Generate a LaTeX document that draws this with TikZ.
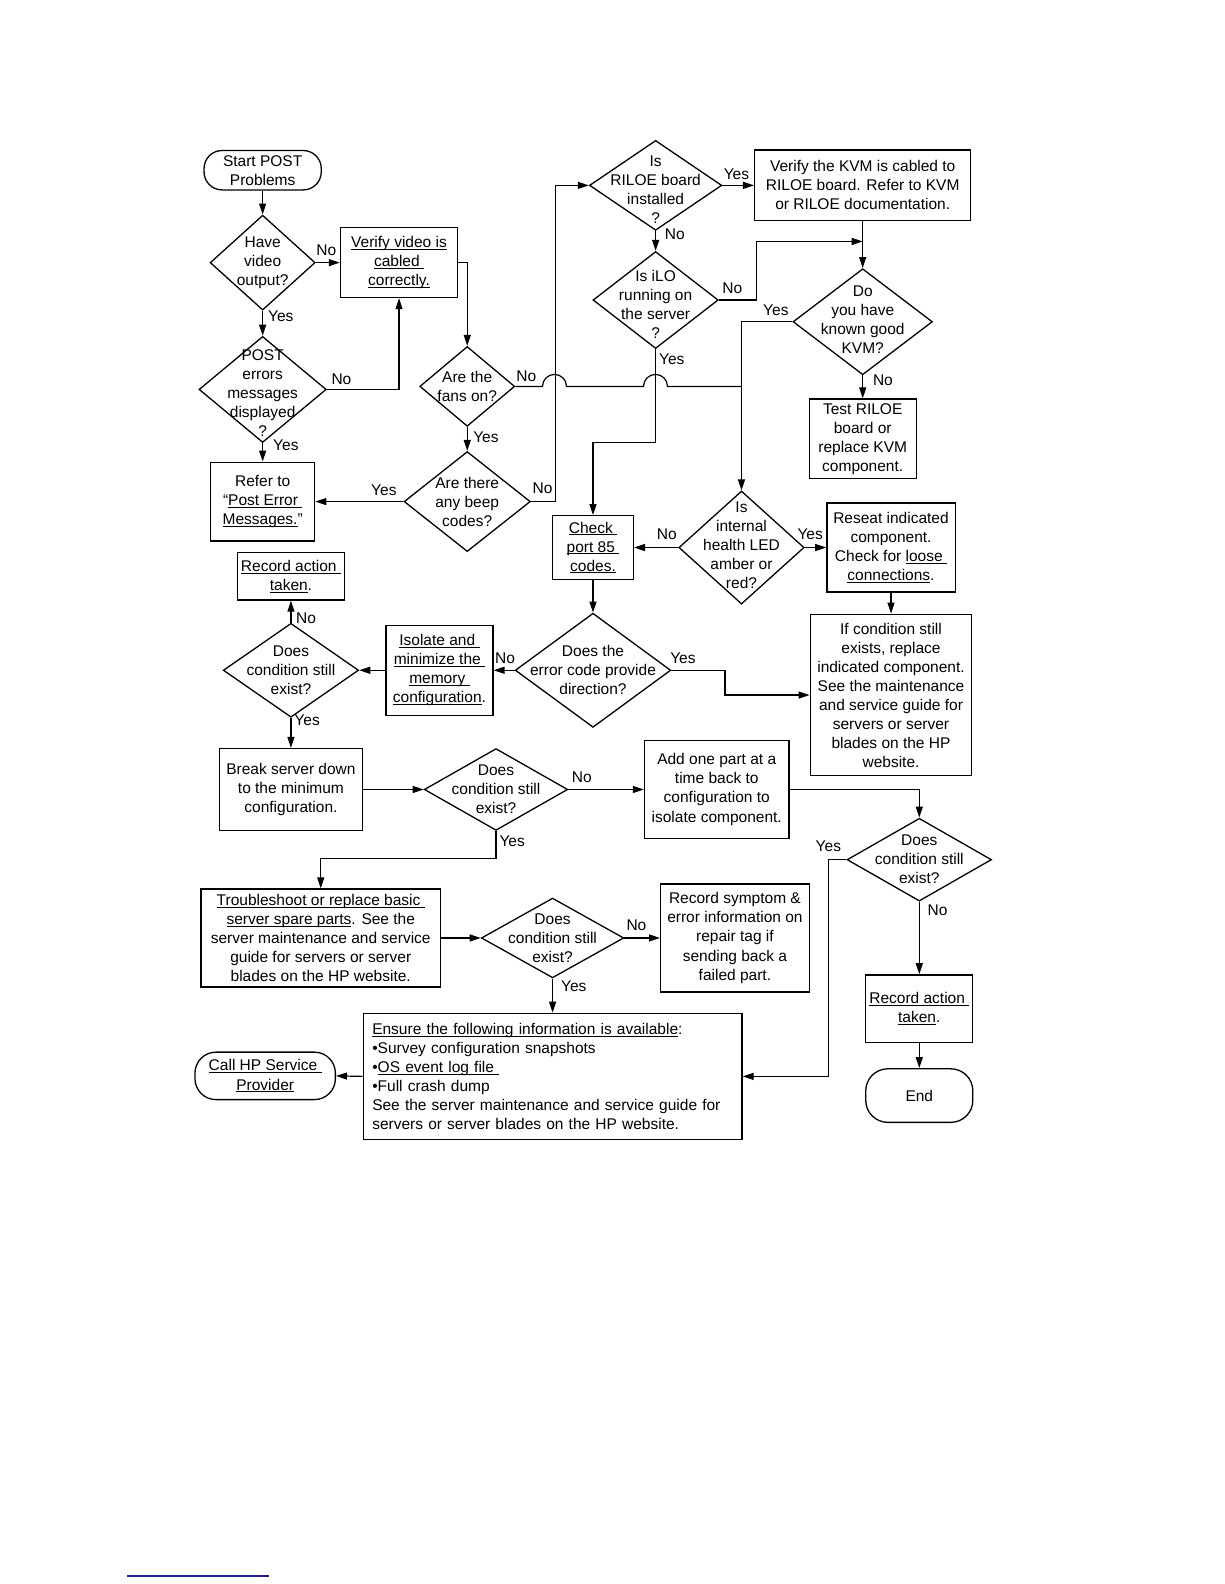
\documentclass[tikz,border=0pt]{standalone}
\usepackage{fontspec}
\setmainfont{Liberation Sans}
\usetikzlibrary{arrows.meta,shapes.geometric}
\newcommand\kS{1.0099}
\newcommand\fs{\fontsize{15.5}{19}\selectfont}
\newcommand\ul[1]{\setbox0=\hbox{#1}\rlap{\rule[-2pt]{\wd0}{0.9pt}}\box0}
\begin{document}
\begin{tikzpicture}[x=\kS pt, y=-\kS pt,
  bx/.style={draw, line width=1.3pt, align=center, inner sep=0pt, font=\fs},
  sz/.style 2 args={minimum width=\kS*#1, minimum height=\kS*#2},
  dia/.style={draw, diamond, line width=1.3pt, inner sep=0pt},
  lbl/.style={align=center, font=\fs, inner sep=0pt},
  lab/.style={font=\fs, inner sep=0pt},
  ln/.style={line width=1.2pt},
  arr/.style={line width=1.2pt, -{Triangle[length=11pt,width=7pt]}},
  term/.style={bx, rounded corners=#1},
]
\useasboundingbox (0,0) rectangle (1212,1568);

% ---------- nodes ----------
\node[term=18pt, sz={116}{39}] (start) at (260,168.5) {Start POST\\Problems};
\node[dia, sz={104}{94}, label={[lbl]center:Have\\video\\output?}] (hv) at (260,260) {};
\node[bx, sz={116}{69}] (vv) at (395,260) {\ul{Verify video is}\\\ul{cabled\ }\\\ul{correctly.}};
\node[dia, sz={126}{105}, label={[lbl,yshift=-4pt]center:POST\\errors\\messages\\displayed\\?}] (pe) at (260,385.5) {};
\node[bx, sz={103}{78}] (refer) at (260,496.5) {Refer to\\“\ul{Post Error\ }\\\ul{Messages.}”};
\node[dia, sz={94}{79}, label={[lbl]center:Are the\\fans on?}] (fans) at (462.5,382.5) {};
\node[dia, sz={125}{99}, label={[lbl]center:Are there\\any beep\\codes?}] (beep) at (462.5,496.5) {};
\node[dia, sz={131}{89}, label={[lbl,yshift=-4pt]center:Is\\RILOE board\\installed\\?}] (riloe) at (649,183.5) {};
\node[bx, sz={214}{70}] (kvmbox) at (854,183.5) {Verify the KVM is cabled to\\RILOE board. Refer to KVM\\or RILOE documentation.};
\node[dia, sz={124}{96}, label={[lbl,yshift=-4pt]center:Is iLO\\running on\\the server\\?}] (ilo) at (649,297) {};
\node[dia, sz={138}{105}, label={[lbl,yshift=2.5pt]center:Do\\you have\\known good\\KVM?}] (kvm) at (854,318.5) {};
\node[bx, sz={106}{79}] (test) at (854,434.5) {Test RILOE\\board or\\replace KVM\\component.};
\node[bx, sz={80}{63}] (chk) at (587,542) {\ul{Check\ }\\\ul{port 85\ }\\\ul{codes.}};
\node[dia, sz={124}{112}, label={[lbl,yshift=2pt]center:Is\\internal\\health LED\\amber or\\red?}] (ih) at (734,542) {};
\node[bx, sz={127}{88}] (reseat) at (882,542) {Reseat indicated\\component.\\Check for \ul{loose\ }\\\ul{connections}.};
\node[bx, sz={160}{160}] (ifc) at (882,688) {If condition still\\exists, replace\\indicated component.\\See the maintenance\\and service guide for\\servers or server\\blades on the HP\\website.};
\node[bx, sz={106}{47}] (rat1) at (288,570.5) {\ul{Record action\ }\\\ul{taken}.};
\node[dia, sz={134}{93}, label={[lbl]center:Does\\condition still\\exist?}] (dc1) at (288,663.5) {};
\node[bx, sz={106}{89}] (iso) at (435,663.5) {\ul{Isolate and\ }\\\ul{minimize the\ }\\\ul{memory\ }\\\ul{configuration}.};
\node[dia, sz={154}{113}, label={[lbl]center:Does the\\error code provide\\direction?}] (ec) at (587,663.5) {};
\node[bx, sz={142}{81}] (brk) at (288,781.5) {Break server down\\to the minimum\\configuration.};
\node[dia, sz={142}{81}, label={[lbl]center:Does\\condition still\\exist?}] (dc2) at (491,781.5) {};
\node[bx, sz={143}{97}] (add) at (709.5,781.5) {Add one part at a\\time back to\\configuration to\\isolate component.};
\node[dia, sz={143}{82}, label={[lbl]center:Does\\condition still\\exist?}] (dc3) at (910,851) {};
\node[bx, sz={237}{97}] (trb) at (317.5,928.5) {\ul{Troubleshoot or replace basic\ }\\\ul{server spare parts}. See the\\server maintenance and service\\guide for servers or server\\blades on the HP website.};
\node[dia, sz={141}{79}, label={[lbl]center:Does\\condition still\\exist?}] (dc4) at (547,928.5) {};
\node[bx, sz={147}{107}] (rsym) at (727.5,928.5) {Record symptom \&\\error information on\\repair tag if\\sending back a\\failed part.};
\node[bx, sz={106}{67}] (rat2) at (910,998.5) {\ul{Record action\ }\\\ul{taken}.};
\node[term=22pt, sz={106}{53}] (end) at (910,1084.5) {End};
\node[bx, sz={375}{125}, align=left, text width=360.5pt] (ens) at (547,1065.5) {\ul{Ensure the following information is available}:\\•Survey configuration snapshots\\•\ul{OS event log file\ }\\•Full crash dump\\See the server maintenance and service guide for\\servers or server blades on the HP website.};
\node[term=21pt, sz={139}{47}] (call) at (262.5,1065) {\ul{Call HP Service\ }\\\ul{Provider}};

\coordinate (j1) at (854,239);
\coordinate (j2) at (734,382.5);

% ---------- connectors ----------
\draw[arr] (start.south) -- (hv.north);
\draw[arr] (hv.east) -- (vv.west);
\draw[arr] (hv.south) -- (pe.north);
\draw[arr] (pe.east) -| (vv.south);
\draw[arr] (pe.south) -- (refer.north);
\draw[arr] (vv.east) -| (fans.north);
\draw[arr] (fans.south) -- (beep.north);
\draw[arr] (beep.west) -- (refer.east);
\draw[arr] (beep.east) -- ++(24,0) |- (riloe.west);
\draw[arr] (riloe.east) -- (kvmbox.west);
\draw[arr] (riloe.south) -- (ilo.north);
\draw[arr] (ilo.east) -- ++(37,0) |- (j1);
\draw[arr] (kvmbox.south) -- (kvm.north);
\draw[arr] (kvm.south) -- (test.north);
\draw[arr] (kvm.west) -| (ih.north);
\draw[arr] (ilo.south) -- ++(0,92) -| (chk.north);
\draw[ln] (fans.east) -- (537,382.5) arc[start angle=180, end angle=0, radius=12pt]
  -- (637,382.5) arc[start angle=180, end angle=0, radius=12pt] -- (j2);
\draw[arr] (ih.west) -- (chk.east);
\draw[arr] (ih.east) -- (reseat.west);
\draw[arr] (reseat.south) -- (ifc.north);
\draw[arr] (chk.south) -- (ec.north);
\draw[arr] (ec.east) -- ++(53,0) |- (ifc.west);
\draw[arr] (ec.west) -- (iso.east);
\draw[arr] (iso.west) -- (dc1.east);
\draw[arr] (dc1.north) -- (rat1.south);
\draw[arr] (dc1.south) -- (brk.north);
\draw[arr] (brk.east) -- (dc2.west);
\draw[arr] (dc2.east) -- (add.west);
\draw[arr] (dc2.south) -- ++(0,27.5) -| (trb.north);
\draw[arr] (add.east) -| (dc3.north);
\draw[arr] (trb.east) -- (dc4.west);
\draw[arr] (dc4.east) -- (rsym.west);
\draw[arr] (dc4.south) -- (ens.north);
\draw[arr] (dc3.west) -- ++(-18,0) |- (ens.east);
\draw[arr] (dc3.south) -- (rat2.north);
\draw[arr] (rat2.south) -- (end.north);
\draw[arr] (ens.west) -- (call.east);

% ---------- connector labels ----------
\node[lab] (l1) at (323,248) {No};
\node[lab] (l2) at (278,313) {Yes};
\node[lab] (l3) at (338,375) {No};
\node[lab] (l4) at (283,441) {Yes};
\node[lab] (l5) at (521,372) {No};
\node[lab] (l6) at (481,433) {Yes};
\node[lab] (l7) at (380,485) {Yes};
\node[lab] (l8) at (537,483) {No};
\node[lab] (l9) at (729,172) {Yes};
\node[lab] (l10) at (668,232) {No};
\node[lab] (l11) at (725,285) {No};
\node[lab] (l12) at (665,356) {Yes};
\node[lab] (l13) at (768,307) {Yes};
\node[lab] (l14) at (874,376) {No};
\node[lab] (l15) at (660,529) {No};
\node[lab] (l16) at (802,529) {Yes};
\node[lab] (l17) at (303,612) {No};
\node[lab] (l18) at (304,713) {Yes};
\node[lab] (l19) at (500,652) {No};
\node[lab] (l20) at (676,652) {Yes};
\node[lab] (l21) at (576,769) {No};
\node[lab] (l22) at (507,833) {Yes};
\node[lab] (l23) at (820,838) {Yes};
\node[lab] (l24) at (928,901) {No};
\node[lab] (l25) at (630,916) {No};
\node[lab] (l26) at (568,976) {Yes};

% footnote rule
\definecolor{navy}{RGB}{30,30,140}
\draw[navy, line width=1.4pt] (126,1560) -- (266,1560);
\end{tikzpicture}
\end{document}
